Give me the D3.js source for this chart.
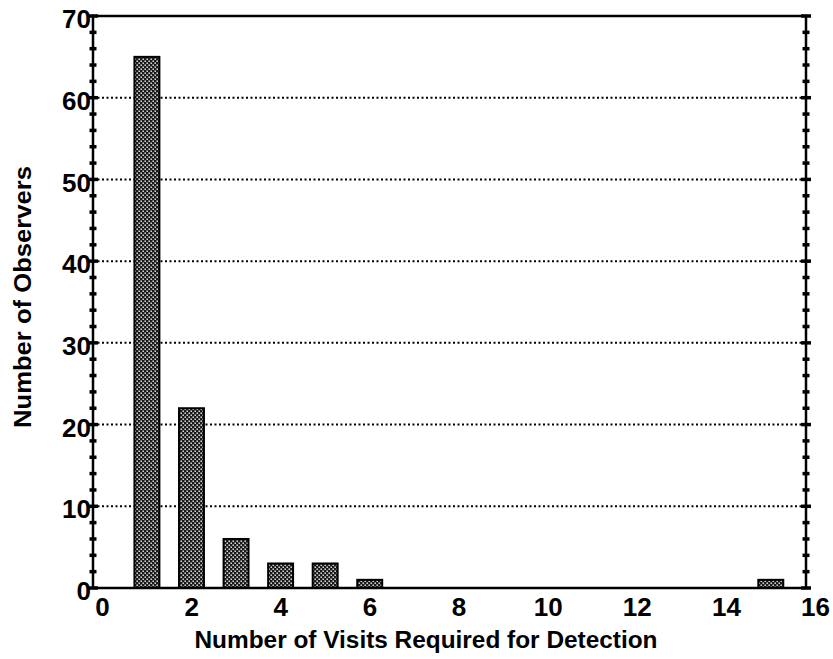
<!DOCTYPE html>
<html>
<head>
<meta charset="utf-8">
<script src="https://cdn.jsdelivr.net/npm/d3@7"></script>
<style>
  html, body { margin: 0; padding: 0; background: #fff; }
  svg { display: block; }
  text { font-family: "Liberation Sans", Arial, Helvetica, sans-serif; fill: #000; }
</style>
</head>
<body>
<svg id="chart" width="833" height="659"></svg>
<script>
// Visits needed before detection, and how many observers needed that many
const visits = [1, 2, 3, 4, 5, 6, 15];
const observers = [65, 22, 6, 3, 3, 1, 1];
const xTicks = [0, 2, 4, 6, 8, 10, 12, 14, 16];
const yTicks = [0, 10, 20, 30, 40, 50, 60, 70];
const yMinor = d3.range(0, 71, 2);

const svg = d3.select("#chart");
const plotL = 93, plotR = 806, plotT = 16, plotB = 588;

const x = d3.scaleLinear().domain([0, 16]).range([plotL, plotR]);
const y = d3.scaleLinear().domain([0, 70]).range([plotB, plotT]);

// stippled fill for the bars
const defs = svg.append("defs");
const pat = defs.append("pattern")
  .attr("id", "stipple").attr("patternUnits", "userSpaceOnUse")
  .attr("width", 4).attr("height", 4);
pat.append("rect").attr("width", 4).attr("height", 4).attr("fill", "#1a1a1a");
pat.append("rect").attr("x", 0.5).attr("y", 0.5).attr("width", 1.4).attr("height", 1.4).attr("fill", "#fff");
pat.append("rect").attr("x", 2.5).attr("y", 2.5).attr("width", 1.4).attr("height", 1.4).attr("fill", "#fff");

// dotted horizontal grid
svg.append("g").selectAll("line")
  .data(yTicks.filter(d => d > 0 && d < 70))
  .join("line")
  .attr("x1", plotL).attr("x2", plotR)
  .attr("y1", d => y(d)).attr("y2", d => y(d))
  .attr("stroke", "#000").attr("stroke-width", 2)
  .attr("stroke-dasharray", "2,2.5");

// bars: each bin sits just right of its integer
const binOffset = -0.07, binWidth = 0.56;
svg.append("g").selectAll("rect")
  .data(visits.map((v, i) => ({ v, n: observers[i] })))
  .join("rect")
  .attr("x", d => x(d.v + binOffset))
  .attr("width", x(binWidth) - x(0))
  .attr("y", d => y(d.n))
  .attr("height", d => y(0) - y(d.n))
  .attr("fill", "url(#stipple)")
  .attr("stroke", "#000").attr("stroke-width", 2);

// frame
svg.append("rect")
  .attr("x", plotL).attr("y", plotT)
  .attr("width", plotR - plotL).attr("height", plotB - plotT)
  .attr("fill", "none").attr("stroke", "#000").attr("stroke-width", 2.5);

// y-axis tick marks on both vertical edges
[plotL, plotR].forEach(ax => {
  svg.append("g").selectAll("line")
    .data(yMinor)
    .join("line")
    .attr("x1", d => ax - (d % 10 === 0 ? 5 : 3.5))
    .attr("x2", d => ax + (d % 10 === 0 ? 5 : 3.5))
    .attr("y1", d => y(d)).attr("y2", d => y(d))
    .attr("stroke", "#000").attr("stroke-width", 3.5);
});

// y tick labels
const yAxis = d3.axisLeft(y).tickValues(yTicks).tickSize(0).tickPadding(2).tickFormat(d3.format("d"));
svg.append("g").attr("transform", `translate(${plotL},0)`).call(yAxis)
  .call(g => g.select(".domain").remove())
  .selectAll("text")
  .attr("font-size", 26).attr("font-weight", "bold")
  .attr("font-family", "Liberation Sans, Arial, sans-serif")
  .attr("dy", "0.45em");

// x tick labels
const xAxis = d3.axisBottom(x).tickValues(xTicks).tickSize(0).tickPadding(10).tickFormat(d3.format("d"));
svg.append("g").attr("transform", `translate(9,${plotB})`).call(xAxis)
  .call(g => g.select(".domain").remove())
  .selectAll("text")
  .attr("font-size", 26).attr("font-weight", "bold")
  .attr("font-family", "Liberation Sans, Arial, sans-serif");

// axis titles
svg.append("text")
  .attr("x", 426).attr("y", 648)
  .attr("text-anchor", "middle")
  .attr("font-size", 23).attr("font-weight", "bold")
  .attr("textLength", 463).attr("lengthAdjust", "spacingAndGlyphs")
  .text("Number of Visits Required for Detection");

svg.append("text")
  .attr("transform", "translate(31,297) rotate(-90)")
  .attr("text-anchor", "middle")
  .attr("font-size", 23).attr("font-weight", "bold")
  .attr("textLength", 262).attr("lengthAdjust", "spacingAndGlyphs")
  .text("Number of Observers");
</script>
</body>
</html>
